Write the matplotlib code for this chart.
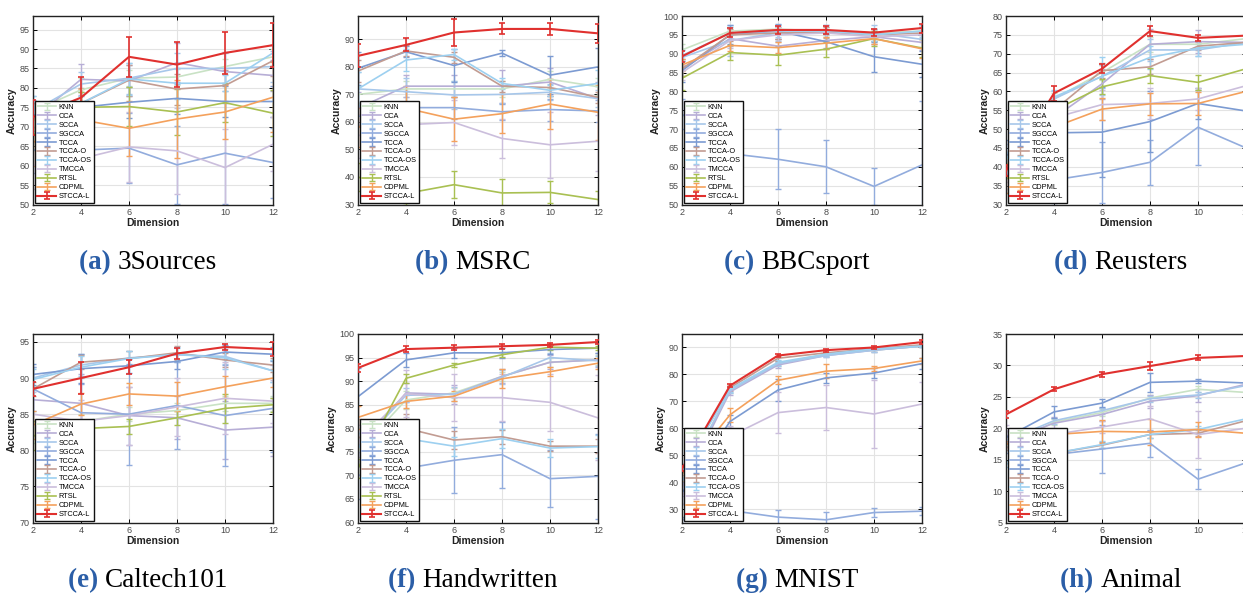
import numpy as np
import matplotlib
matplotlib.use('Agg')
import matplotlib.pyplot as plt

plt.rcParams['font.family'] = ['Liberation Sans', 'DejaVu Sans']

# ── Data ──────────────────────────────────────────────────────────────────
dims = [2, 4, 6, 8, 10, 12]

methods_full = ['KNN', 'CCA', 'SCCA', 'SGCCA', 'TCCA', 'TCCA-O', 'TCCA-OS',
                'TMCCA', 'RTSL', 'CDPML', 'STCCA-L']
methods_norts = ['KNN', 'CCA', 'SCCA', 'SGCCA', 'TCCA', 'TCCA-O', 'TCCA-OS',
                 'TMCCA', 'CDPML', 'STCCA-L']

colors = {'KNN': '#c9e2c5', 'CCA': '#b7aed6', 'SCCA': '#a7c7ea',
          'SGCCA': '#92acdd', 'TCCA': '#7c9bd2', 'TCCA-O': '#c29c92',
          'TCCA-OS': '#9dd0f0', 'TMCCA': '#cbbedc', 'RTSL': '#a9c052',
          'CDPML': '#f4a15c', 'STCCA-L': '#e0302e'}

# (a) 3Sources
acc_3sources = [
    [74, 79.5, 82.5, 82.8, 85.5, 88],
    [72, 82.2, 81.8, 86.5, 84.2, 83.2],
    [74, 81, 82.5, 85, 85, 85.5],
    [64, 64, 64.5, 60.2, 63.2, 60.8],
    [73, 75, 76.3, 77.3, 76.5, 76.5],
    [72, 76, 82, 79.7, 80.6, 87],
    [75, 76, 82.3, 81.2, 81.2, 89],
    [60, 61.8, 64.8, 63.8, 59.5, 65.5],
    [68, 75, 75.2, 73.8, 76.2, 73.5],
    [66, 71.8, 69.6, 72, 73.8, 77.6],
    [72.5, 77.5, 88, 86, 89, 91],
]
err_3sources = [
    [2, 3, 2, 2, 2, 2],
    [4, 4, 4, 5, 5, 4],
    [4, 3, 4, 4, 4, 4],
    [6, 8, 9, 10, 13, 9],
    [4, 4, 4, 4, 4, 4],
    [4, 4, 4, 4, 4, 4],
    [3, 2, 4, 4, 2, 2],
    [6, 6, 9, 11, 10, 7],
    [4, 4, 5, 6, 5, 6],
    [6, 8, 7, 10, 7, 9],
    [4.5, 5.2, 5.2, 5.7, 5.5, 5.7],
]

# (b) MSRC
acc_msrc = [
    [70, 72, 72, 72, 75.5, 72.8],
    [65, 73, 73, 73, 74.5, 68.5],
    [72, 71, 69.8, 70, 70.8, 68.5],
    [62, 65.2, 65.2, 63.7, 64.5, 64],
    [79.5, 85.5, 80.5, 85, 77, 80],
    [78.5, 85.8, 83.5, 73, 72.5, 69],
    [72, 82.5, 84.5, 74, 71.5, 74],
    [55, 59, 59.8, 54, 51.7, 53],
    [40, 34, 37.2, 34.2, 34.4, 31.8],
    [58, 65, 61, 63, 66.5, 63.5],
    [84, 88, 92.5, 93.8, 93.8, 92.2],
]
err_msrc = [
    [3, 3, 3, 3, 3, 3],
    [6, 4, 4, 6, 5, 6],
    [6, 5, 5, 3, 3, 3],
    [4, 6, 4, 3, 4, 4],
    [6, 2, 6, 1.2, 7, 7],
    [4, 2, 2, 2, 3, 2],
    [6, 4, 2, 2, 2, 5],
    [8, 7, 8, 7, 12, 11],
    [5, 4, 5, 5, 4, 3],
    [7, 8, 8, 7, 9, 10],
    [4.2, 2.4, 5, 2, 2.2, 3.4],
]

# (c) BBCsport
acc_bbcsport = [
    [91, 96, 96.5, 96, 95.5, 96],
    [86, 94, 92, 93.5, 94.5, 93],
    [89, 93.5, 95.5, 95.5, 95.5, 93.8],
    [74, 63.5, 62, 60, 54.8, 60.5],
    [85.5, 95, 96, 93.2, 89.2, 87.2],
    [86, 95, 95.5, 95.7, 95, 95.5],
    [89.5, 95.5, 96, 96, 95, 96],
    [85, 93.5, 95, 95.5, 94.5, 95],
    [83.5, 90.3, 89.6, 91.2, 94, 91.5],
    [87, 92.2, 91.6, 92.8, 94, 91.3],
    [89.3, 95.5, 96.3, 96.3, 95.6, 96.8],
]
err_bbcsport = [
    [1.5, 1, 1, 1, 1, 1],
    [2, 2, 2, 2, 2, 2],
    [2, 4, 2, 2, 2, 2],
    [4, 7, 8, 7, 5, 17],
    [3, 2.5, 2, 2, 4, 3.5],
    [2, 1.5, 1.5, 1.5, 1.5, 1.5],
    [1.5, 1.5, 1.5, 1.5, 1.5, 1.5],
    [2, 2, 2, 2, 2, 2],
    [3, 2, 2.5, 2, 2, 2.5],
    [1.5, 1.5, 1.5, 1.5, 1.5, 2.5],
    [1.5, 1.2, 1, 1, 1, 1.2],
]

# (d) Reusters
acc_reusters = [
    [42, 58, 65, 72.5, 72.5, 74],
    [40, 53, 62, 72.5, 73.2, 73],
    [43, 58, 64, 71, 71, 73],
    [38, 36.5, 38.5, 41.2, 50.5, 45],
    [43, 49, 49.2, 52, 56.8, 54.8],
    [40, 55, 65.5, 66.5, 72, 73],
    [42, 58.5, 64, 69, 71.5, 72.5],
    [38, 53, 56.5, 56.8, 58, 61.5],
    [40, 55, 61.2, 64.2, 62.4, 66],
    [37, 50.5, 55.3, 56.7, 56.8, 60],
    [39, 59.5, 66, 76, 74.2, 74.8],
]
err_reusters = [
    [2, 1.5, 2, 2, 1, 1],
    [4, 3, 4, 4, 3, 3],
    [3, 2, 3, 3, 1.5, 1.5],
    [5, 6, 8, 6, 10, 8],
    [4, 4, 12, 8, 4, 4],
    [3, 2, 2, 2, 1, 1],
    [2, 2, 5, 3, 2, 1.5],
    [4, 3, 4, 4, 3, 3],
    [3, 2, 2, 2, 2, 2],
    [4, 4, 3, 3, 3, 3],
    [1.5, 2, 1.2, 1.3, 0.7, 1],
]

# (e) Caltech101
acc_caltech = [
    [83, 84, 85, 85.5, 86.5, 86.5],
    [87, 86.5, 84.8, 84.5, 82.8, 83.2],
    [90, 91.8, 92.8, 93.2, 93, 91],
    [88.5, 85.2, 85, 86.2, 84.8, 85.8],
    [90.5, 91.3, 91.7, 92.3, 93.6, 93.3],
    [88.5, 92.2, 92.7, 93.5, 92.5, 91.8],
    [89.8, 91.5, 92.7, 93.3, 92.8, 91],
    [85, 84, 84.8, 86, 87.2, 86.8],
    [82, 83, 83.3, 84.5, 85.8, 86.3],
    [83.5, 86.4, 87.8, 87.5, 88.8, 90],
    [88.5, 90, 91.5, 93.4, 94.3, 94],
]
err_caltech = [
    [2, 1, 1, 1, 1, 1],
    [3, 4, 4, 3, 4, 4],
    [1.5, 1.5, 1, 1, 1, 1.5],
    [3, 4, 7, 6, 7, 6],
    [1.5, 2, 1, 1, 1, 1],
    [1, 1, 1, 1, 1, 1],
    [1.5, 1.5, 1, 1, 1.5, 1.5],
    [3, 3, 4, 4, 5, 3],
    [2, 1, 1, 1, 2, 1],
    [2, 1.5, 1.5, 2, 1.5, 1.2],
    [1, 2.2, 1, 0.8, 0.4, 1],
]

# (f) Handwritten
acc_handwritten = [
    [75, 86, 87.5, 91, 94, 94.5],
    [76, 87.5, 87.2, 91, 94, 94.5],
    [76, 87, 87.2, 90.8, 95, 94.3],
    [70, 71.5, 73.2, 74.4, 69.3, 69.8],
    [86.7, 94.5, 96, 96, 96.7, 97],
    [78, 80, 77.5, 78.2, 76.2, 76.2],
    [76, 77.8, 76.2, 77.8, 75.8, 76.1],
    [77, 87.3, 86.5, 86.5, 85.5, 82.2],
    [71.5, 90.6, 93.4, 95.6, 97.2, 97],
    [82.3, 85.7, 86.8, 90.5, 92, 93.8],
    [92.8, 96.8, 97.1, 97.4, 97.7, 98.3],
]
err_handwritten = [
    [3, 2, 1, 1, 1, 1],
    [4, 2, 2, 1.5, 1.5, 1.5],
    [4, 1.5, 1.5, 1.5, 1, 1],
    [5, 4, 7, 7, 6, 9],
    [6, 1.5, 1, 1, 1, 1],
    [4, 3, 2, 1.5, 1, 1.5],
    [3, 2, 2, 2, 2, 2.5],
    [4, 5, 5, 5, 6, 9],
    [2, 1, 0.5, 0.5, 0.5, 0.5],
    [2.5, 1.3, 1, 2, 1, 1.2],
    [0.8, 0.6, 0.5, 0.5, 0.4, 0.5],
]

# (g) MNIST
acc_mnist = [
    [40, 74, 84, 87.5, 89, 90.5],
    [38, 73.5, 83.5, 87, 89, 90.5],
    [40, 74, 84, 87, 89, 90.5],
    [26, 29.5, 27, 26, 28.7, 29.2],
    [36, 62.5, 74.2, 78.7, 80.5, 84],
    [44, 75, 86, 88, 89.5, 91],
    [44, 74.5, 84.5, 87.5, 89.5, 90.5],
    [35, 57, 65.8, 67.7, 65.3, 69],
    [43, 65, 77.8, 81.2, 82.2, 85],
    [45, 75.8, 87, 89, 90, 92],
]
err_mnist = [
    [2, 1, 1, 0.5, 0.5, 0.5],
    [3, 1, 1, 0.5, 0.5, 0.5],
    [2, 1, 1, 0.5, 0.5, 0.5],
    [1, 1.5, 2.5, 3, 1.5, 1.5],
    [4, 2.5, 4, 2, 2, 2],
    [1.5, 1, 1, 0.5, 0.5, 0.5],
    [2, 1, 1, 0.5, 0.5, 0.5],
    [3, 4, 7.5, 8.5, 12.5, 8],
    [2.5, 2.5, 1.5, 2.5, 1, 1],
    [1, 0.6, 0.5, 0.5, 0.5, 0.8],
]

# (h) Animal
acc_animal = [
    [17, 21, 22.5, 24.8, 26.2, 25.7],
    [18, 20.8, 22.2, 24.3, 25.2, 27],
    [18, 21.2, 22.8, 24.7, 25.3, 26.8],
    [17, 15.8, 16.7, 17.6, 11.9, 14.5],
    [18.5, 22.6, 24, 27.3, 27.5, 27.2],
    [17, 16, 17.3, 19, 19.2, 21.2],
    [14.3, 16, 17.4, 19, 19.8, 21.5],
    [19.5, 19, 20.2, 21.5, 19, 20],
    [17.5, 19, 19.5, 19.4, 19.8, 19.2],
    [22.2, 26.2, 28.6, 29.9, 31.2, 31.5],
]
err_animal = [
    [0.5, 0.5, 0.5, 0.5, 0.5, 0.5],
    [1, 1, 1, 1, 1, 1],
    [0.5, 0.5, 0.5, 0.5, 0.5, 0.5],
    [1, 1, 3.8, 2.2, 1.6, 2],
    [1, 1, 0.6, 1.5, 0.3, 0.5],
    [0.5, 0.5, 0.5, 0.5, 0.5, 0.5],
    [0.5, 0.5, 0.5, 0.5, 0.5, 0.5],
    [1, 1, 1, 2, 3.7, 1.5],
    [0.5, 0.5, 1.8, 2, 1.2, 0.5],
    [0.5, 0.3, 0.4, 0.7, 0.4, 0.3],
]

panels = [
    ('(a)', '3Sources', methods_full, acc_3sources, err_3sources, (50, 98.5), np.arange(50, 96, 5)),
    ('(b)', 'MSRC', methods_full, acc_msrc, err_msrc, (30, 98.5), np.arange(30, 91, 10)),
    ('(c)', 'BBCsport', methods_full, acc_bbcsport, err_bbcsport, (50, 100), np.arange(50, 101, 5)),
    ('(d)', 'Reusters', methods_full, acc_reusters, err_reusters, (30, 80), np.arange(30, 81, 5)),
    ('(e)', 'Caltech101', methods_full, acc_caltech, err_caltech, (70, 96.1), np.arange(70, 96, 5)),
    ('(f)', 'Handwritten', methods_full, acc_handwritten, err_handwritten, (60, 100), np.arange(60, 101, 5)),
    ('(g)', 'MNIST', methods_norts, acc_mnist, err_mnist, (25, 95), np.arange(30, 91, 10)),
    ('(h)', 'Animal', methods_norts, acc_animal, err_animal, (5, 35), np.arange(5, 36, 5)),
]

# ── Layout (pixels of a 1243x594 canvas) ──────────────────────────────────
W, H = 1243, 594
col_left = [33, 358, 682, 1006]
row_top = [16, 334]
ax_w, ax_h = 240, 188.5

fig = plt.figure(figsize=(W / 100, H / 100), dpi=100)
renderer = fig.canvas.get_renderer()

for i, (tag, name, methods, acc, err, ylim, yticks) in enumerate(panels):
    r, c = divmod(i, 4)
    left = col_left[c]
    top = row_top[r]
    ax = fig.add_axes([left / W, 1 - (top + ax_h) / H, ax_w / W, ax_h / H])

    for m, mean, e in zip(methods, acc, err):
        is_ours = m == 'STCCA-L'
        ax.errorbar(dims, mean, yerr=e, color=colors[m],
                    linewidth=1.5 if is_ours else 1.2,
                    elinewidth=1.2 if is_ours else 1.0,
                    capsize=2.2, capthick=1.2 if is_ours else 1.0,
                    label=m, zorder=3 if is_ours else 2)

    ax.set_xlim(2, 12)
    ax.set_ylim(*ylim)
    ax.set_xticks(dims)
    ax.set_yticks(yticks)
    ax.grid(True, color='#e3e3e3', linewidth=0.8)
    ax.set_axisbelow(True)
    ax.tick_params(direction='in', length=3, width=0.7, top=True, right=True,
                   labelsize=6.5, labelcolor='#4a4a4a', pad=2.5)
    for sp in ax.spines.values():
        sp.set_linewidth(1.0)
        sp.set_color('#222222')
    ax.set_xlabel('Dimension', fontsize=7.5, fontweight='bold',
                  color='#222222', labelpad=1)
    ax.set_ylabel('Accuracy', fontsize=7.5, fontweight='bold',
                  color='#222222', labelpad=2)

    leg = ax.legend(loc='lower left', fontsize=5.3, frameon=True,
                    fancybox=False, edgecolor='#111111', framealpha=1,
                    borderaxespad=0.25, borderpad=0.35, labelspacing=0.24,
                    handlelength=2.5, handletextpad=0.35)
    leg.get_frame().set_linewidth(1.0)
    leg.set_zorder(10)

    # caption under each panel: bold blue tag + serif name, centred together
    cx = left + ax_w / 2 - 5
    cy = 1 - (top + ax_h + 58) / H
    t1 = fig.text(0, cy, tag + ' ', ha='left', va='center', fontsize=19.5,
                  family=['Liberation Serif'], fontweight='bold', color='#2b5ea7')
    t2 = fig.text(0, cy, name, ha='left', va='center', fontsize=19.5,
                  family=['Liberation Serif'], color='black')
    w1 = t1.get_window_extent(renderer).width
    w2 = t2.get_window_extent(renderer).width
    x0 = cx - (w1 + w2) / 2
    t1.set_x(x0 / W)
    t2.set_x((x0 + w1) / W)

fig.savefig('out.png', dpi=100)
